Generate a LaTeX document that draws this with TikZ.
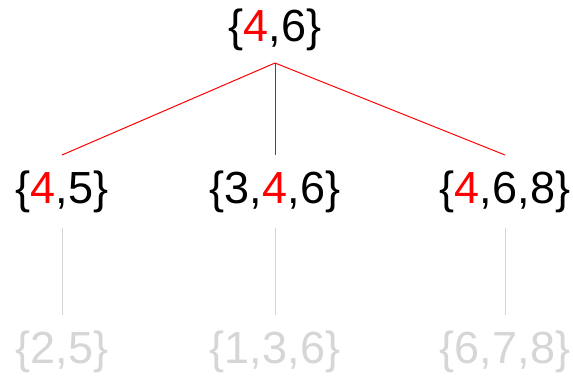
\documentclass[tikz,border=0pt]{standalone}
\usepackage{fontspec}
\setmainfont{Liberation Sans}
\definecolor{lgray}{RGB}{214,214,214}
\definecolor{lline}{RGB}{212,212,212}
\definecolor{pred}{RGB}{255,0,0}
\begin{document}
\begin{tikzpicture}[x=1pt,y=-1pt,
  set/.style={anchor=base,inner sep=0pt,outer sep=0pt,text height=48pt,text depth=25pt,font=\fontsize{45}{54}\selectfont},
  faded/.style={set,text=lgray},
  redline/.style={draw=pred,line width=1pt},
  grayline/.style={draw=lline,line width=1pt}]
\useasboundingbox (0,0) rectangle (573,377);
\newcommand{\hl}[1]{\textcolor{pred}{#1}}
\node[set,text depth=21pt] (top) at (275,42) {\{\hl{4},6\}};
\node[set] (a) at (62,203) {\{\hl{4},5\}};
\node[set] (b) at (275,203) {\{3,\hl{4},6\}};
\node[set] (c) at (505,203) {\{\hl{4},6,8\}};
\node[faded] (a2) at (62,363) {\{2,5\}};
\node[faded] (b2) at (275,363) {\{1,3,6\}};
\node[faded] (c2) at (505,363) {\{6,7,8\}};
\draw[redline] (top.south) -- (a.north);
\draw[redline] (top.south) -- (b.north);
\draw[redline] (top.south) -- (c.north);
\draw[grayline] (a.south) -- (a2.north);
\draw[grayline] (b.south) -- (b2.north);
\draw[grayline] (c.south) -- (c2.north);
\end{tikzpicture}
\end{document}
